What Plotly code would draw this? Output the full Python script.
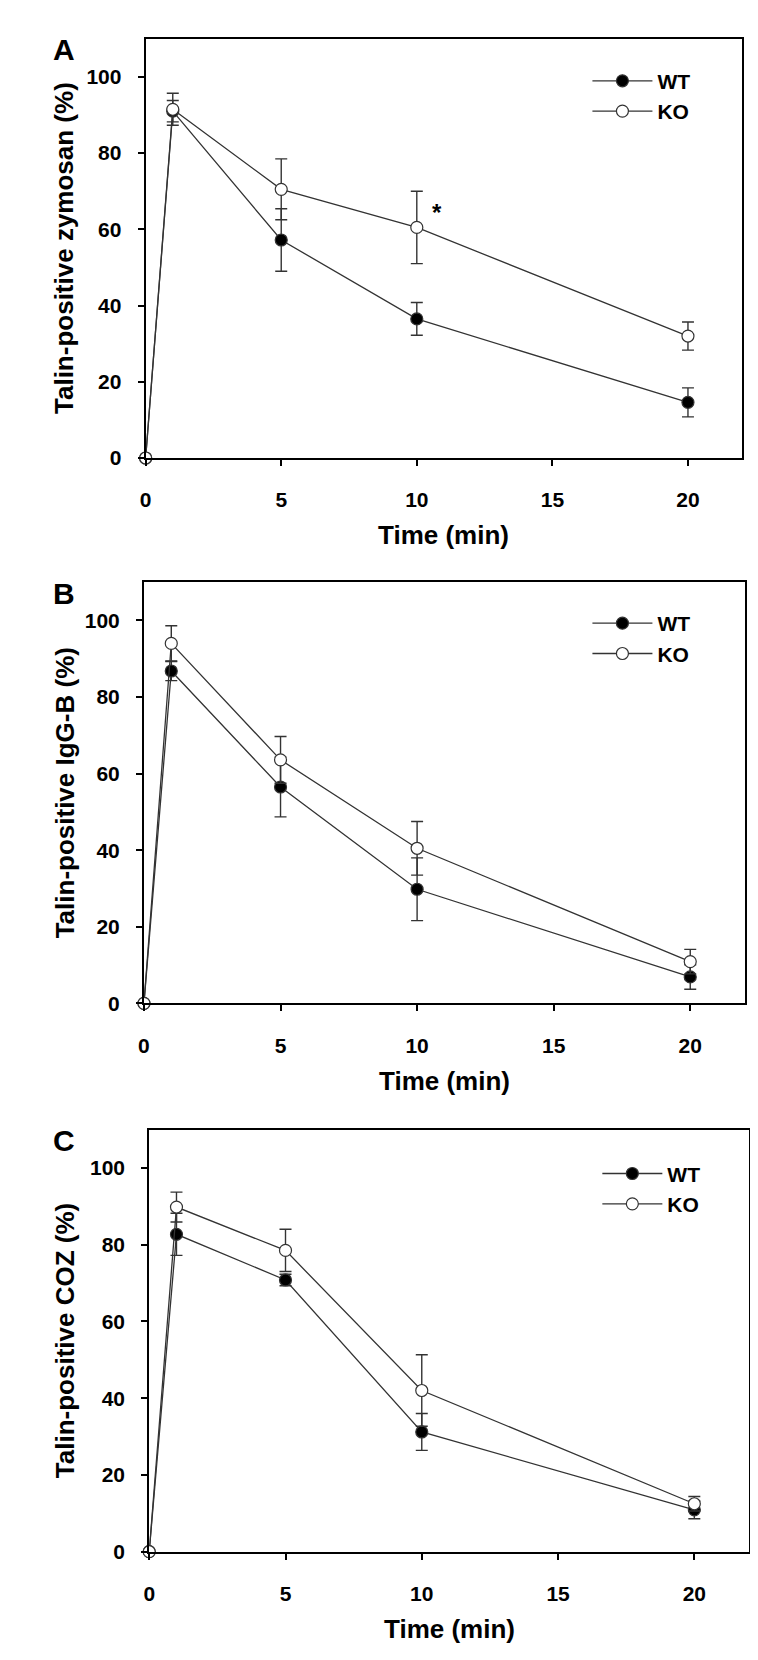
import plotly.graph_objects as go

# ---------------- data ----------------
time = [0, 1, 5, 10, 20]
groups = ["WT", "KO"]

a_wt = [0, 91.0, 57.2, 36.5, 14.6]
a_wt_err = [0, 2.8, 8.2, 4.3, 3.8]
a_ko = [0, 91.5, 70.5, 60.5, 32.0]
a_ko_err = [0, 4.2, 8.0, 9.5, 3.7]

b_wt = [0, 86.8, 56.5, 29.8, 6.9]
b_wt_err = [0, 2.5, 7.8, 8.2, 3.2]
b_ko = [0, 94.0, 63.6, 40.5, 10.9]
b_ko_err = [0, 4.6, 6.1, 7.0, 3.2]

c_wt = [0, 82.7, 70.8, 31.2, 10.9]
c_wt_err = [0, 5.5, 1.5, 4.8, 2.3]
c_ko = [0, 89.8, 78.5, 42.0, 12.5]
c_ko_err = [0, 3.9, 5.5, 9.3, 1.9]

panel_letters = ["A", "B", "C"]
y_titles = ["Talin-positive zymosan (%)", "Talin-positive IgG-B (%)", "Talin-positive COZ (%)"]
x_title = "Time (min)"
x_ticks = [0, 5, 10, 15, 20]
y_ticks = [0, 20, 40, 60, 80, 100]
x_range = [0, 22]
y_range = [0, 110]
star_pos = (10.75, 64.5)  # significance marker, panel A

# ---------------- layout geometry (pixels) ----------------
W, H = 758, 1660
FONT = "Liberation Sans, Arial, sans-serif"
panels = [
    dict(wt=a_wt, wte=a_wt_err, ko=a_ko, koe=a_ko_err, l=132.7, r=734.0, t=31, b=453, leg=(578, 53)),
    dict(wt=b_wt, wte=b_wt_err, ko=b_ko, koe=b_ko_err, l=131.0, r=736.7, t=578, b=1002, leg=(578, 599)),
    dict(wt=c_wt, wte=c_wt_err, ko=c_ko, koe=c_ko_err, l=136.3, r=740.7, t=1129, b=1554, leg=(588, 1153)),
]

fig = go.Figure()
layout = dict(
    width=W, height=H, margin=dict(l=0, r=0, t=0, b=0),
    paper_bgcolor="white", plot_bgcolor="white", showlegend=True,
    font=dict(family=FONT, color="black"),
)
annotations = []

for i, p in enumerate(panels):
    n = "" if i == 0 else str(i + 1)
    xa, ya = "x" + n, "y" + n
    leg = "legend" + n
    for name, ys, es, fill in [("WT", p["wt"], p["wte"], "black"), ("KO", p["ko"], p["koe"], "white")]:
        fig.add_trace(go.Scatter(
            x=time, y=ys, name=name, mode="lines+markers",
            xaxis=xa, yaxis=ya, legend=leg, cliponaxis=False,
            line=dict(color="#333333", width=1.3),
            marker=dict(size=12, color=fill, line=dict(color="#333333", width=1.2)),
            error_y=dict(type="data", array=es, visible=True, color="#333333", thickness=1.4, width=6),
        ))
    dom_x = [p["l"] / W, p["r"] / W]
    dom_y = [1 - p["b"] / H, 1 - p["t"] / H]
    common = dict(showline=True, linecolor="black", linewidth=2, mirror=True,
                  ticks="outside", ticklen=6, tickwidth=1.5, tickcolor="black",
                  showgrid=False, zeroline=False,
                  tickfont=dict(family=FONT, size=21, color="black", weight="bold"))
    layout["xaxis" + n] = dict(domain=dom_x, range=x_range, tickvals=x_ticks, anchor=ya,
                               ticklabelstandoff=16, **common)
    layout["yaxis" + n] = dict(domain=dom_y, range=y_range, tickvals=y_ticks, anchor=xa,
                               ticklabelstandoff=12, **common)
    layout[leg] = dict(x=p["leg"][0] / W, y=1 - p["leg"][1] / H, xanchor="left", yanchor="top",
                       bgcolor="rgba(0,0,0,0)", borderwidth=0, itemwidth=60,
                       font=dict(family=FONT, size=21, color="black", weight="bold"),
                       tracegroupgap=0)
    cx = (p["l"] + p["r"]) / 2
    cy = (p["t"] + p["b"]) / 2
    annotations.append(dict(text=x_title, xref="paper", yref="paper", x=cx / W, y=1 - (p["b"] + 78) / H,
                            xanchor="center", yanchor="middle", showarrow=False,
                            font=dict(family=FONT, size=26, color="black", weight="bold")))
    annotations.append(dict(text=y_titles[i], xref="paper", yref="paper", x=51 / W, y=1 - cy / H,
                            xanchor="center", yanchor="middle", showarrow=False, textangle=-90,
                            font=dict(family=FONT, size=26, color="black", weight="bold")))
    annotations.append(dict(text=panel_letters[i], xref="paper", yref="paper", x=50 / W, y=1 - (p["t"] + 11) / H,
                            xanchor="center", yanchor="middle", showarrow=False,
                            font=dict(family=FONT, size=30, color="black", weight="bold")))

annotations.append(dict(text="*", xref="x", yref="y", x=star_pos[0], y=star_pos[1], showarrow=False,
                        xanchor="center", yanchor="middle",
                        font=dict(family=FONT, size=24, color="black", weight="bold")))
layout["annotations"] = annotations
fig.update_layout(**layout)
fig.write_html("out.html")
